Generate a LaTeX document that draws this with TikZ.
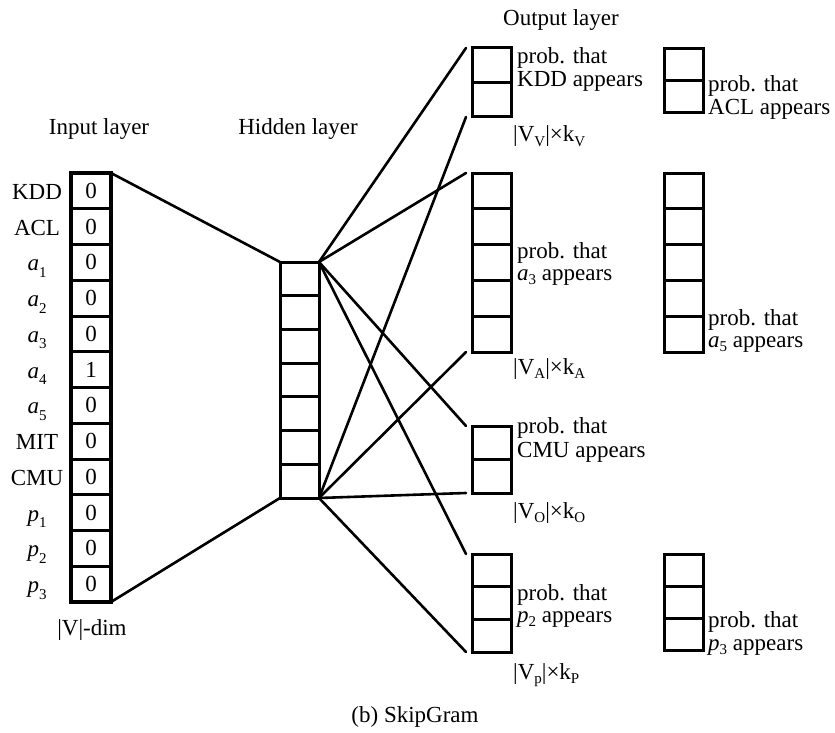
\documentclass[tikz,border=0pt]{standalone}
\usepackage{fontspec}
\setmainfont{Liberation Serif}
% lowered small subscripts for the input labels and the size labels
\newcommand\lowsub[1]{\raisebox{-0.28em}{\fontsize{15}{15}\selectfont #1}}
\newcommand\txsub[1]{\raisebox{-0.18em}{\fontsize{15}{15}\selectfont #1}}
% a column of equal cells: name, left x, top y, height, number of cells
\newcommand\stackbox[5]{%
  \node[colbox, minimum height=#4pt] (#1) at (#2,#3) {};
  \pgfmathtruncatemacro\lastk{#5-1}%
  \foreach \k in {1,...,\lastk}
    \draw[line width=3pt] (#1.north west) ++(0,{\k*#4/#5}) -- ++(39,0);
}
\begin{document}
\begin{tikzpicture}[x=1pt,y=-1pt,
  font=\fontsize{23}{24}\selectfont,
  colbox/.style={draw, line width=3pt, inner sep=0pt, outer sep=0pt,
    minimum width=39pt, anchor=north west},
  incell/.style={draw, line width=3pt, inner sep=0pt, outer sep=0pt,
    minimum width=40pt, minimum height=35.75pt},
  wire/.style={line width=2.6pt, line cap=round},
  lbl/.style={anchor=base west, inner sep=0pt},
  ctr/.style={anchor=base, inner sep=0pt}]
\useasboundingbox (0,0) rectangle (835,733);

% titles
\node[ctr] (tin)  at (99,135)  {Input layer};
\node[ctr] (thid) at (298,135) {Hidden layer};
\node[ctr] (tout) at (561,26)  {Output layer};

% input one-hot vector
\foreach \v [count=\i] in {0,0,0,0,0,1,0,0,0,0,0,0}
  \node[incell] (in\i) at (91,{173+35.75*(\i-0.5)}) {\v};
\draw[line width=4pt] (in1.north west) rectangle (in12.south east);
\foreach \t [count=\i] in {KDD,ACL,{\textit{a}\lowsub{1}},{\textit{a}\lowsub{2}},
    {\textit{a}\lowsub{3}},{\textit{a}\lowsub{4}},{\textit{a}\lowsub{5}},MIT,CMU,
    {\textit{p}\lowsub{1}},{\textit{p}\lowsub{2}},{\textit{p}\lowsub{3}}}
  \node[ctr] (lab\i) at (37,{173+35.75*(\i-0.5)+8.5}) {\t};
\node[ctr] (vdim) at (92,635) {|V|-dim};

% hidden layer
\stackbox{hid}{280}{262}{236}{7}

% output layer, first column
\stackbox{oV}{472}{48}{69}{2}
\stackbox{oA}{472}{173}{179}{5}
\stackbox{oO}{472}{426}{67}{2}
\stackbox{oP}{472}{554}{98}{3}
% output layer, second column
\stackbox{rV}{664}{49}{64}{2}
\stackbox{rA}{664}{173}{179}{5}
\stackbox{rP}{664}{554}{96}{3}

% connections
\draw[wire] (in1.north east) -- (hid.north west);
\draw[wire] (in12.south east) -- (hid.south west);
\foreach \b in {oV,oA,oO,oP} {
  \draw[wire] (hid.north east) -- ([xshift=-6pt]\b.north west);
  \draw[wire] (hid.south east) -- ([xshift=-6pt]\b.south west);
}

% probability labels
\node[lbl] (pv1) at (517,64)  {prob. that};
\node[lbl] (pv2) at (517,87)  {KDD appears};
\node[lbl] (qv1) at (708,92)  {prob. that};
\node[lbl] (qv2) at (708,115) {ACL appears};
\node[lbl] (pa1) at (517,258) {prob. that};
\node[lbl] (pa2) at (517,280) {\textit{a}\txsub{3} appears};
\node[lbl] (qa1) at (708,325) {prob. that};
\node[lbl] (qa2) at (708,347) {\textit{a}\txsub{5} appears};
\node[lbl] (po1) at (517,433) {prob. that};
\node[lbl] (po2) at (517,457) {CMU appears};
\node[lbl] (pp1) at (517,600) {prob. that};
\node[lbl] (pp2) at (517,622) {\textit{p}\txsub{2} appears};
\node[lbl] (qp1) at (708,627) {prob. that};
\node[lbl] (qp2) at (708,650) {\textit{p}\txsub{3} appears};

% matrix sizes
\node[lbl] (sv) at (513,142) {|V\txsub{V}|×k\txsub{V}};
\node[lbl] (sa) at (513,374) {|V\txsub{A}|×k\txsub{A}};
\node[lbl] (so) at (513,518) {|V\txsub{O}|×k\txsub{O}};
\node[lbl] (sp) at (513,679) {|V\txsub{p}|×k\txsub{P}};

% caption
\node[ctr] (cap) at (415,722) {(b) SkipGram};
\end{tikzpicture}
\end{document}
